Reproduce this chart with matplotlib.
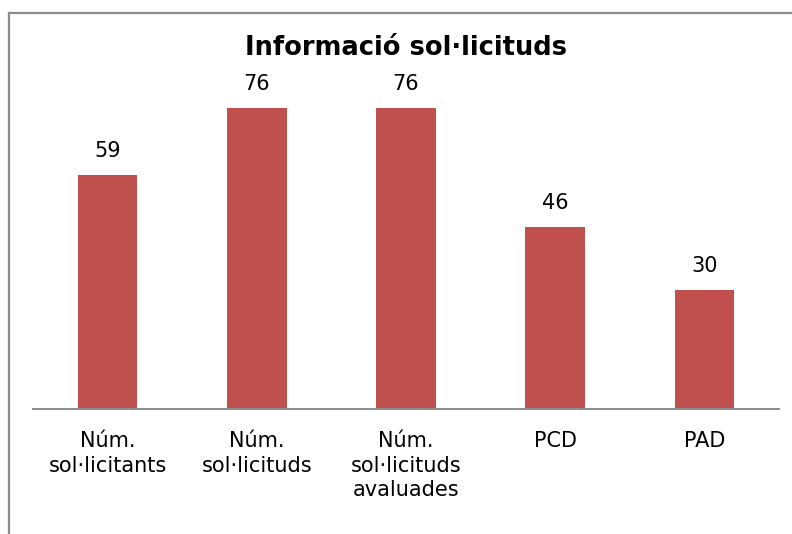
import matplotlib
matplotlib.use("Agg")
import matplotlib.pyplot as plt
from matplotlib.lines import Line2D

categories = ["Núm.\nsol·licitants", "Núm.\nsol·licituds", "Núm.\nsol·licituds\navaluades", "PCD", "PAD"]
values = [59, 76, 76, 46, 30]
title = "Informació sol·licituds"

W, H = 792, 534
fig = plt.figure(figsize=(W / 100, H / 100), dpi=100)
fig.patch.set_facecolor("white")

# outer frame (left and top visible)
fig.add_artist(Line2D([9 / W, 9 / W], [0, 1 - 13 / H], transform=fig.transFigure,
                      color="#8c8c8c", lw=1.6))
fig.add_artist(Line2D([9 / W, 1], [1 - 13 / H, 1 - 13 / H], transform=fig.transFigure,
                      color="#8c8c8c", lw=1.6))

left, right, bottom, top = 33, 779, 409, 92
ax = fig.add_axes([left / W, 1 - bottom / H, (right - left) / W, (bottom - top) / H])
x = list(range(len(categories)))
bars = ax.bar(x, values, width=0.4, color="#C0504D")
ax.set_xlim(-0.5, len(categories) - 0.5)
ax.set_ylim(0, 80)
for s in ["top", "right", "left"]:
    ax.spines[s].set_visible(False)
ax.spines["bottom"].set_color("#8c8c8c")
ax.spines["bottom"].set_linewidth(1.4)
ax.set_yticks([])
ax.set_xticks(x)
ax.set_xticklabels(categories, fontsize=15, family="DejaVu Sans", linespacing=1.28)
ax.tick_params(axis="x", length=0, pad=16)
ax.set_facecolor("none")

for xi, v in zip(x, values):
    ax.annotate(str(v), (xi, v), xytext=(0, 10), textcoords="offset points",
                ha="center", va="bottom", fontsize=15)

fig.text((left + right) / 2 / W, 1 - 48 / H, title, ha="center", va="center",
         fontsize=18.5, fontweight="bold")

fig.savefig("out.png", dpi=100)
